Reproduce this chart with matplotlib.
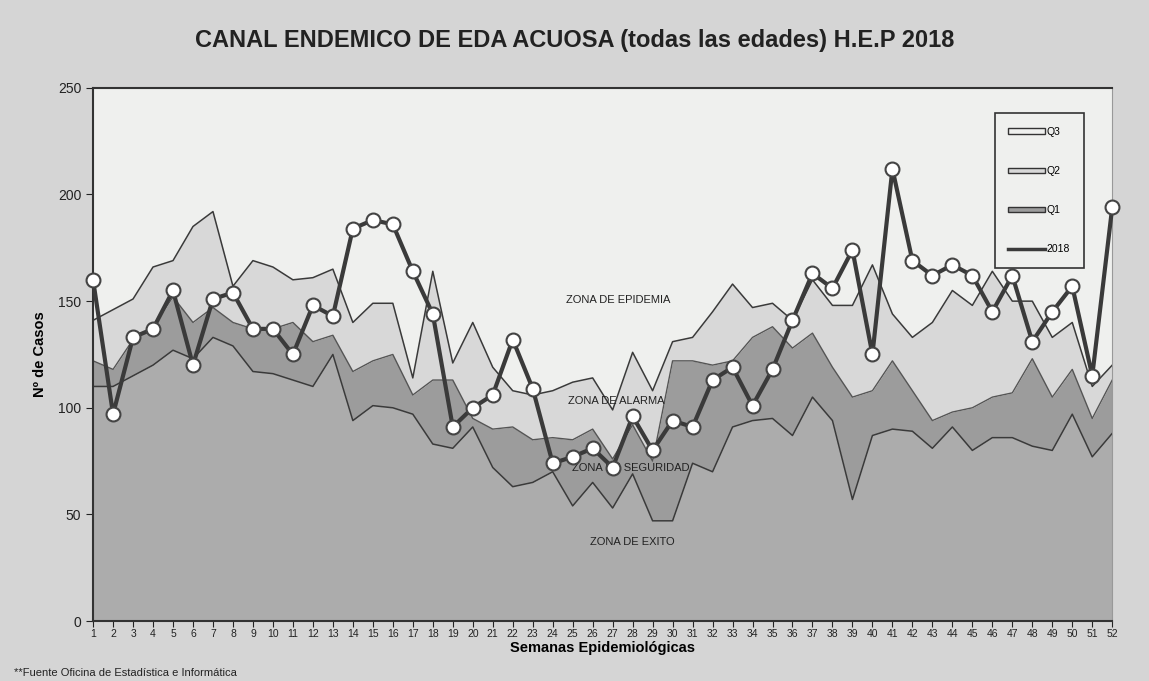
import numpy as np
import matplotlib
matplotlib.use("Agg")
import matplotlib.pyplot as plt
from matplotlib.patches import Patch
from matplotlib.lines import Line2D

plt.rcParams['font.family'] = ['Liberation Sans', 'DejaVu Sans']

weeks = list(range(1, 53))

casos_2018 = [160, 97, 133, 137, 155, 120, 151, 154, 137, 137,
              125, 148, 143, 184, 188, 186, 164, 144, 91, 100,
              106, 132, 109, 74, 77, 81, 72, 96, 80, 94,
              91, 113, 119, 101, 118, 141, 163, 156, 174, 125,
              212, 169, 162, 167, 162, 145, 162, 131, 145, 157,
              115, 194]

q3 = [141, 146, 151, 166, 169, 185, 192, 157, 169, 166,
      160, 161, 165, 140, 149, 149, 114, 164, 121, 140,
      119, 108, 106, 108, 112, 114, 99, 126, 108, 131,
      133, 145, 158, 147, 149, 141, 160, 148, 148, 167,
      144, 133, 140, 155, 148, 164, 150, 150, 133, 140,
      110, 120]

q2 = [122, 118, 132, 138, 152, 140, 147, 140, 137, 137,
      140, 131, 134, 117, 122, 125, 106, 113, 113, 95,
      90, 91, 85, 86, 85, 90, 76, 92, 75, 122,
      122, 120, 122, 133, 138, 128, 135, 119, 105, 108,
      122, 108, 94, 98, 100, 105, 107, 123, 105, 118,
      95, 113]

q1 = [110, 110, 115, 120, 127, 123, 133, 129, 117, 116,
      113, 110, 125, 94, 101, 100, 97, 83, 81, 91,
      72, 63, 65, 70, 54, 65, 53, 69, 47, 47,
      74, 70, 91, 94, 95, 87, 105, 94, 57, 87,
      90, 89, 81, 91, 80, 86, 86, 82, 80, 97,
      77, 88]

zonas = ["ZONA DE EPIDEMIA", "ZONA DE ALARMA", "ZONA DE SEGURIDAD", "ZONA DE EXITO"]
zonas_pos = [(27.3, 150.6), (27.2, 103.2), (27.9, 71.8), (28.0, 37.0)]

c_exito = '#acacac'
c_seg = '#9c9c9c'
c_alarma = '#d8d8d8'
c_bg = '#eff0ee'
c_line = '#3a3a3a'

fig = plt.figure(figsize=(11.49, 6.81), dpi=100, facecolor='#d5d5d5')
ax = fig.add_axes([0.081, 0.088, 0.887, 0.783])
ax.set_facecolor(c_bg)

x = np.array(weeks)
ax.fill_between(x, 0, q1, color=c_exito, lw=0)
ax.fill_between(x, q1, q2, color=c_seg, lw=0)
ax.fill_between(x, q2, q3, color=c_alarma, lw=0)
ax.plot(x, q3, color=c_line, lw=1.1)
ax.plot(x, q2, color='#555555', lw=1.0)
ax.plot(x, q1, color=c_line, lw=1.1)
ax.plot(x, casos_2018, color=c_line, lw=3, marker='o', markersize=10,
        markerfacecolor='white', markeredgecolor='#444444', markeredgewidth=1.5,
        zorder=5, clip_on=False)

for txt, (tx, ty) in zip(zonas, zonas_pos):
    ax.text(tx, ty, txt, fontsize=8, ha='center', va='center', color='#222222')

ax.set_xlim(1, 52)
ax.set_ylim(0, 250)
ax.set_xticks(weeks)
ax.set_xticklabels([str(w) for w in weeks], fontsize=7.5)
ax.set_yticks([0, 50, 100, 150, 200, 250])
ax.tick_params(axis='y', labelsize=10, length=5, direction='out', colors='#222222')
ax.tick_params(axis='x', length=4, direction='out', colors='#222222', pad=2)
for s in ['left', 'bottom', 'top']:
    ax.spines[s].set_color('#333333')
    ax.spines[s].set_linewidth(1.5)
ax.spines['right'].set_color('#999999')

ax.set_ylabel('Nº de Casos', fontsize=10.5, fontweight='bold', labelpad=8)
ax.set_xlabel('Semanas Epidemiológicas', fontsize=10.5, fontweight='bold', labelpad=1)

fig.text(0.5, 0.94, 'CANAL ENDEMICO DE EDA ACUOSA (todas las edades) H.E.P 2018',
         fontsize=17, fontweight='bold', ha='center', va='center', color='#222222')
fig.text(0.012, 0.012, '**Fuente Oficina de Estadística e Informática', fontsize=8,
         ha='left', va='center', color='#222222')

handles = [Patch(facecolor=c_bg, edgecolor='#333333', label='Q3'),
           Patch(facecolor=c_alarma, edgecolor='#333333', label='Q2'),
           Patch(facecolor=c_seg, edgecolor='#333333', label='Q1'),
           Line2D([], [], color=c_line, lw=2.5, label='2018')]
leg = ax.legend(handles=handles, loc='upper right', bbox_to_anchor=(0.977, 0.962),
                fontsize=7.5, handlelength=3.5, handleheight=0.45, labelspacing=2.8,
                borderpad=1.3, handletextpad=0.2, fancybox=False, framealpha=1,
                edgecolor='#333333')
leg.get_frame().set_facecolor(c_bg)
leg.get_frame().set_linewidth(1.2)

fig.savefig('out.png', dpi=100, facecolor=fig.get_facecolor())
